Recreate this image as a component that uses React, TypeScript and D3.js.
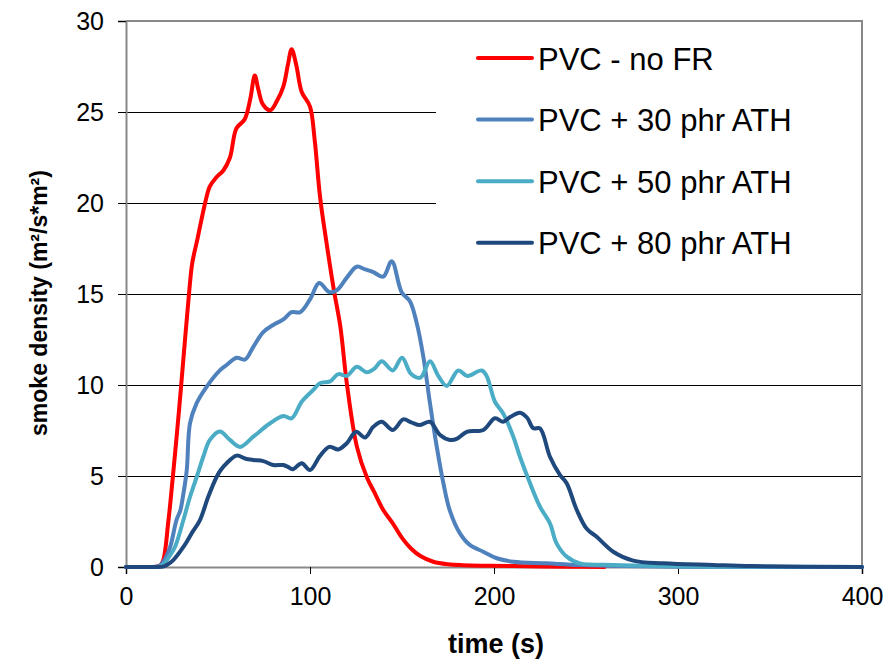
import React, { useEffect, useRef } from "react";
import * as d3 from "d3";

// series labels + colours (legend order)
const seriesNames = ["PVC - no FR", "PVC + 30 phr ATH", "PVC + 50 phr ATH", "PVC + 80 phr ATH"];
const seriesColors = ["#ff0000", "#4f81bd", "#4bacc6", "#1f497d"];

// PVC - no FR
const noFrTime = [0, 10, 18, 20, 23, 25.5, 28, 30, 32.5, 34.5, 36, 39, 43, 45.5, 49, 53, 56.5, 60, 64.5, 67.5, 70, 72, 74.5, 78.5, 82, 85.5, 88, 90, 92.5, 95.5, 100, 102.5, 105.5, 109, 113, 116.5, 120, 125.5, 131, 135, 140, 145, 150, 155, 160, 167, 175, 183, 195, 210, 240, 260];
const noFrValue = [0, 0, 0.05, 0.3, 2.5, 5, 7.7, 10, 13, 15.3, 16.7, 18.1, 20, 20.9, 21.4, 21.8, 22.5, 24.1, 24.6, 25.7, 27.0, 26.2, 25.4, 25.1, 25.6, 26.4, 27.6, 28.45, 27.6, 26.1, 25.3, 23.5, 20.3, 17.8, 15.2, 13.2, 10.1, 6.6, 4.9, 4.1, 3.1, 2.4, 1.6, 1.0, 0.6, 0.29, 0.15, 0.1, 0.07, 0.05, 0.02, 0];

// PVC + 30 phr ATH
const ath30Time = [0, 10, 18, 21, 24, 27.5, 29.5, 31, 33, 34.8, 38.4, 43.8, 51, 54.7, 60.1, 64.7, 69.2, 74.6, 80, 85.5, 90, 94.6, 100, 105, 110.5, 114.5, 120, 125.4, 130, 134.4, 139.8, 144.4, 149.8, 154.3, 158, 161.6, 165.2, 168.9, 172.5, 176, 181.5, 187, 194.2, 201.5, 210.5, 228.6, 246.7, 270, 300, 350, 400];
const ath30Value = [0, 0, 0.05, 0.4, 1.1, 2.6, 3.1, 3.9, 5.3, 7.9, 9.0, 9.9, 10.8, 11.1, 11.5, 11.4, 12.1, 12.9, 13.3, 13.6, 14.0, 14.0, 14.7, 15.6, 15.1, 15.2, 15.9, 16.5, 16.35, 16.2, 15.95, 16.8, 15.1, 14.6, 13.4, 11.55, 9.0, 6.6, 4.6, 3.1, 1.85, 1.2, 0.84, 0.48, 0.29, 0.2, 0.11, 0.05, 0.02, 0, 0];

// PVC + 50 phr ATH
const ath50Time = [0, 10, 18, 20, 23, 26.6, 31.2, 34.8, 38.6, 42, 45.6, 51, 56.5, 62, 69.2, 78.3, 85.5, 90, 95.5, 101.8, 105.4, 110.9, 115.4, 120, 125.4, 130.8, 135, 139, 145, 150, 155, 160, 165.2, 169.7, 174.3, 180.6, 185.5, 193.3, 196, 200.5, 205, 210.5, 214.1, 219.6, 225, 230.4, 234, 239.5, 246.7, 264.8, 290, 320, 400];
const ath50Value = [0, 0, 0.02, 0.1, 0.5, 1.1, 2.58, 3.86, 5.0, 6.06, 6.98, 7.45, 6.98, 6.6, 7.16, 7.9, 8.3, 8.17, 9.08, 9.73, 10.1, 10.2, 10.6, 10.5, 11.0, 10.7, 10.9, 11.3, 10.8, 11.5, 10.6, 10.4, 11.3, 10.5, 9.95, 10.8, 10.5, 10.8, 10.5, 9.08, 8.44, 7.16, 6.06, 4.6, 3.31, 2.4, 1.3, 0.57, 0.2, 0.11, 0.05, 0.02, 0];

// PVC + 80 phr ATH
const ath80Time = [0, 10, 20, 22, 25.7, 31.2, 36, 40.2, 44.7, 49.3, 51.5, 54.7, 60.1, 65, 69.2, 74.6, 80, 85.5, 88, 90.6, 95.5, 100, 105.4, 110.5, 115.4, 120, 125, 129.9, 134.4, 139, 145, 150.7, 155, 159.8, 165.2, 170.7, 176.1, 180, 185.2, 194.2, 200.5, 205, 209, 214.1, 218, 221.4, 225, 230.4, 235.9, 239.5, 245, 250.4, 255.8, 264.8, 275.7, 292, 319, 340, 400];
const ath80Value = [0, 0, 0.02, 0.1, 0.38, 1.1, 1.9, 2.58, 3.86, 4.96, 5.33, 5.7, 6.12, 5.95, 5.88, 5.82, 5.6, 5.6, 5.5, 5.37, 5.7, 5.33, 6.1, 6.6, 6.46, 6.8, 7.43, 7.12, 7.7, 7.98, 7.53, 8.11, 7.95, 7.8, 7.98, 7.25, 6.98, 7.05, 7.43, 7.53, 8.17, 7.98, 8.25, 8.48, 8.2, 7.62, 7.62, 6.06, 5.05, 4.6, 3.13, 2.1, 1.66, 0.84, 0.35, 0.2, 0.11, 0.05, 0];

const yTicks = [0, 5, 10, 15, 20, 25, 30];
const xTicks = [0, 100, 200, 300, 400];

const FONT = "'Liberation Sans', Arial, sans-serif";

const App = () => {
  const chartRef = useRef<HTMLDivElement>(null);

  useEffect(() => {
    d3.select(chartRef.current).select("svg").remove();

    const W = 892;
    const H = 663;
    const left = 126, right = 862, top = 21, bottom = 567;

    const svg = d3
      .select(chartRef.current)
      .append("svg")
      .attr("width", W)
      .attr("height", H)
      .style("display", "block")
      .style("background", "#fff");

    const x = d3.scaleLinear().domain([0, 400]).range([left, right]);
    const y = d3.scaleLinear().domain([0, 30]).range([bottom, top]);

    // gridlines
    svg
      .selectAll(".grid")
      .data(yTicks.filter((d) => d > 0 && d < 30))
      .enter()
      .append("line")
      .attr("x1", left)
      .attr("x2", right)
      .attr("y1", (d) => Math.round(y(d)) + 0.5)
      .attr("y2", (d) => Math.round(y(d)) + 0.5)
      .attr("stroke", "#000")
      .attr("stroke-width", 1);

    // plot area border (top/right) in grey
    svg
      .append("path")
      .attr("d", `M${left},${top}H${right}V${bottom}`)
      .attr("fill", "none")
      .attr("stroke", "#888")
      .attr("stroke-width", 2);

    // y axis
    const yAxis = svg
      .append("g")
      .attr("transform", `translate(${left},0)`)
      .call(d3.axisLeft(y).tickValues(yTicks).tickSize(8).tickPadding(14));
    yAxis.select(".domain").attr("stroke", "#888").attr("stroke-width", 2);
    yAxis.selectAll(".tick line").attr("stroke", "#000");
    yAxis
      .selectAll(".tick text")
      .attr("font-family", FONT)
      .attr("font-size", 25)
      .attr("fill", "#000");

    // x axis
    const xAxis = svg
      .append("g")
      .attr("transform", `translate(0,${bottom})`)
      .call(d3.axisBottom(x).tickValues(xTicks).tickSize(7).tickPadding(13));
    xAxis.select(".domain").attr("stroke", "#888").attr("stroke-width", 2);
    xAxis.selectAll(".tick line").attr("stroke", "#000");
    xAxis
      .selectAll(".tick text")
      .attr("font-family", FONT)
      .attr("font-size", 25)
      .attr("fill", "#000");

    // legend box hides the gridlines behind it
    svg
      .append("rect")
      .attr("x", 436)
      .attr("y", 28)
      .attr("width", 425)
      .attr("height", 250)
      .attr("fill", "#fff");

    // series
    const series = [
      { t: noFrTime, v: noFrValue },
      { t: ath30Time, v: ath30Value },
      { t: ath50Time, v: ath50Value },
      { t: ath80Time, v: ath80Value },
    ];

    const line = d3
      .line<[number, number]>()
      .x((d) => x(d[0]))
      .y((d) => y(Math.max(0, d[1])))
      .curve(d3.curveCatmullRom.alpha(0.5));

    series.forEach((s, i) => {
      const pts: [number, number][] = s.t.map((t, k) => [t, s.v[k]]);
      svg
        .append("path")
        .datum(pts)
        .attr("d", line)
        .attr("fill", "none")
        .attr("stroke", seriesColors[i])
        .attr("stroke-width", 4)
        .attr("stroke-linejoin", "round")
        .attr("stroke-linecap", "round");
    });

    // legend
    const lg = svg.append("g");
    seriesNames.forEach((name, i) => {
      const ly = 58 + i * 61.6;
      lg.append("line")
        .attr("x1", 478)
        .attr("x2", 532)
        .attr("y1", ly)
        .attr("y2", ly)
        .attr("stroke", seriesColors[i])
        .attr("stroke-width", 4)
        .attr("stroke-linecap", "round");
      lg.append("text")
        .attr("x", 538)
        .attr("y", ly + 11.5)
        .attr("font-family", FONT)
        .attr("font-size", 31)
        .attr("fill", "#000")
        .text(name);
    });

    // axis titles
    svg
      .append("text")
      .attr("x", 496)
      .attr("y", 653)
      .attr("text-anchor", "middle")
      .attr("font-family", FONT)
      .attr("font-size", 27)
      .attr("font-weight", "bold")
      .attr("fill", "#000")
      .text("time (s)");

    svg
      .append("text")
      .attr("transform", `translate(47,${303}) rotate(-90)`)
      .attr("text-anchor", "middle")
      .attr("font-family", FONT)
      .attr("font-size", 23)
      .attr("font-weight", "bold")
      .attr("fill", "#000")
      .text("smoke density (m²/s*m²)");
  }, []);

  return <div ref={chartRef} style={{ position: "absolute", left: 0, top: 0 }}></div>;
};

export default App;
